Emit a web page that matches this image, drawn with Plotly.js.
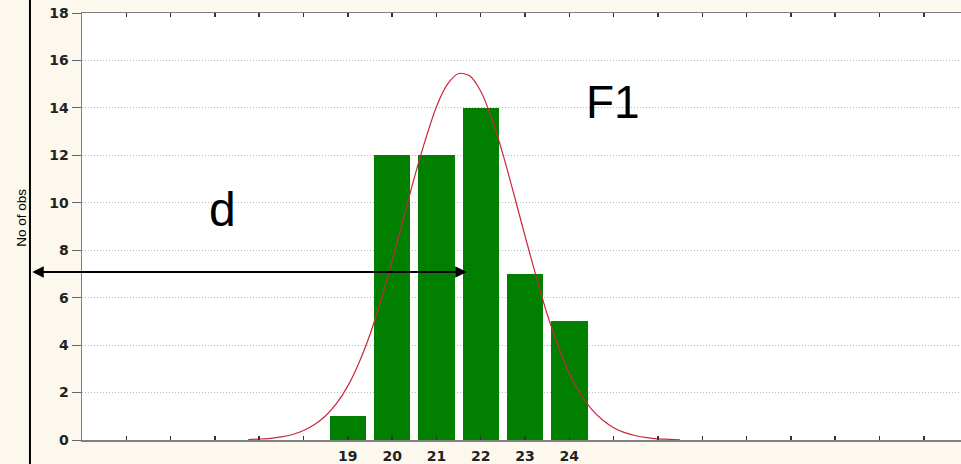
<!DOCTYPE html>
<html>
<head>
<meta charset="utf-8">
<script src="https://cdn.plot.ly/plotly-3.0.1.min.js"></script>
<style>
html,body{margin:0;padding:0;background:#fcf8ee;overflow:hidden;}
#chart{width:961px;height:464px;}
</style>
</head>
<body>
<div id="chart"></div>
<script>
// Histogram categories and counts
const categories = [19, 20, 21, 22, 23, 24];
const counts = [1, 12, 12, 14, 7, 5];

// Fitted normal curve
const curveX = [16.75, 17.0, 17.25, 17.5, 17.75, 18.0, 18.25, 18.5, 18.75, 19.0, 19.25, 19.5, 19.75, 20.0, 20.25, 20.5, 20.75, 21.0, 21.25, 21.5, 21.75, 22.0, 22.25, 22.5, 22.75, 23.0, 23.25, 23.5, 23.75, 24.0, 24.25, 24.5, 24.75, 25.0, 25.25, 25.5, 25.75, 26.0, 26.25, 26.5];
const curveY = [0.02, 0.04, 0.07, 0.13, 0.23, 0.40, 0.65, 1.02, 1.55, 2.28, 3.25, 4.45, 5.9, 7.55, 9.3, 11.05, 12.65, 14.05, 15.0, 15.45, 15.35, 14.7, 13.55, 12.05, 10.35, 8.6, 6.9, 5.3, 3.95, 2.8, 1.95, 1.3, 0.84, 0.52, 0.31, 0.18, 0.1, 0.05, 0.03, 0.01];

// Axis ticks
const xTickVals = [14, 15, 16, 17, 18, 19, 20, 21, 22, 23, 24, 25, 26, 27, 28, 29, 30, 31, 32];
const xTickText = ['', '', '', '', '', '19', '20', '21', '22', '23', '24', '', '', '', '', '', '', '', ''];
const yTickVals = [0, 2, 4, 6, 8, 10, 12, 14, 16, 18];

// Labels
const yTitle = 'No of obs';
const labelD = 'd';
const labelF = 'F1';

const traces = [
  {
    type: 'bar',
    x: categories,
    y: counts,
    width: 0.82,
    marker: {color: '#007f00', line: {width: 0}},
    hoverinfo: 'x+y'
  },
  {
    type: 'scatter',
    mode: 'lines',
    x: curveX,
    y: curveY,
    line: {color: '#c8283c', width: 1.2, shape: 'spline', smoothing: 0.8},
    hoverinfo: 'skip'
  }
];

const tickFont = {family: 'DejaVu Sans', size: 14, weight: 'bold', color: '#222'};

const layout = {
  width: 961,
  height: 464,
  margin: {l: 82, r: 0, t: 13, b: 24, pad: 0},
  paper_bgcolor: '#fcf8ee',
  plot_bgcolor: '#ffffff',
  showlegend: false,
  bargap: 0,
  xaxis: {
    range: [13, 32.84],
    tickmode: 'array',
    tickvals: xTickVals,
    ticktext: xTickText,
    ticks: 'inside',
    ticklen: 4,
    tickwidth: 1.5,
    tickcolor: '#333',
    showline: true,
    linecolor: '#808080',
    linewidth: 1.5,
    mirror: 'allticks',
    showgrid: false,
    zeroline: false,
    tickfont: tickFont,
    ticklabelstandoff: 3,
    fixedrange: true
  },
  yaxis: {
    range: [0, 18],
    tickmode: 'array',
    tickvals: yTickVals,
    ticks: 'outside',
    ticklen: 9,
    tickwidth: 1,
    tickcolor: '#666',
    showline: true,
    linecolor: '#808080',
    linewidth: 1.5,
    showgrid: true,
    gridcolor: '#b8b8b8',
    gridwidth: 1,
    griddash: '1px,2px',
    zeroline: false,
    tickfont: tickFont,
    fixedrange: true
  },
  shapes: [
    {
      type: 'line', xref: 'paper', yref: 'paper',
      x0: -0.0592, x1: -0.0592, y0: -0.06, y1: 1.04,
      line: {color: '#000', width: 2}
    }
  ],
  annotations: [
    {
      xref: 'paper', yref: 'paper', x: -0.0686, y: 0.52,
      text: yTitle, textangle: -90, showarrow: false,
      font: {family: 'Liberation Sans Narrow, Liberation Sans, Arial', size: 13.5, color: '#000'},
      xanchor: 'center', yanchor: 'middle'
    },
    {
      xref: 'paper', yref: 'paper', x: 0.1593, y: 0.540,
      text: labelD, showarrow: false,
      font: {family: 'Liberation Sans, Arial', size: 48, color: '#000'},
      xanchor: 'center', yanchor: 'middle'
    },
    {
      xref: 'paper', yref: 'paper', x: 0.6041, y: 0.7906,
      text: labelF, showarrow: false,
      font: {family: 'Liberation Sans, Arial', size: 46, color: '#000'},
      xanchor: 'center', yanchor: 'middle'
    },
    {
      xref: 'paper', yref: 'paper', x: 0.4377, y: 0.3934,
      text: '', showarrow: true,
      ax: -436, ay: 0, axref: 'pixel', ayref: 'pixel',
      arrowside: 'end+start',
      arrowhead: 2, startarrowhead: 2,
      arrowsize: 1.15, startarrowsize: 1.15,
      arrowwidth: 2, arrowcolor: '#000'
    }
  ]
};

Plotly.newPlot('chart', traces, layout, {staticPlot: true, displayModeBar: false});
</script>
</body>
</html>
